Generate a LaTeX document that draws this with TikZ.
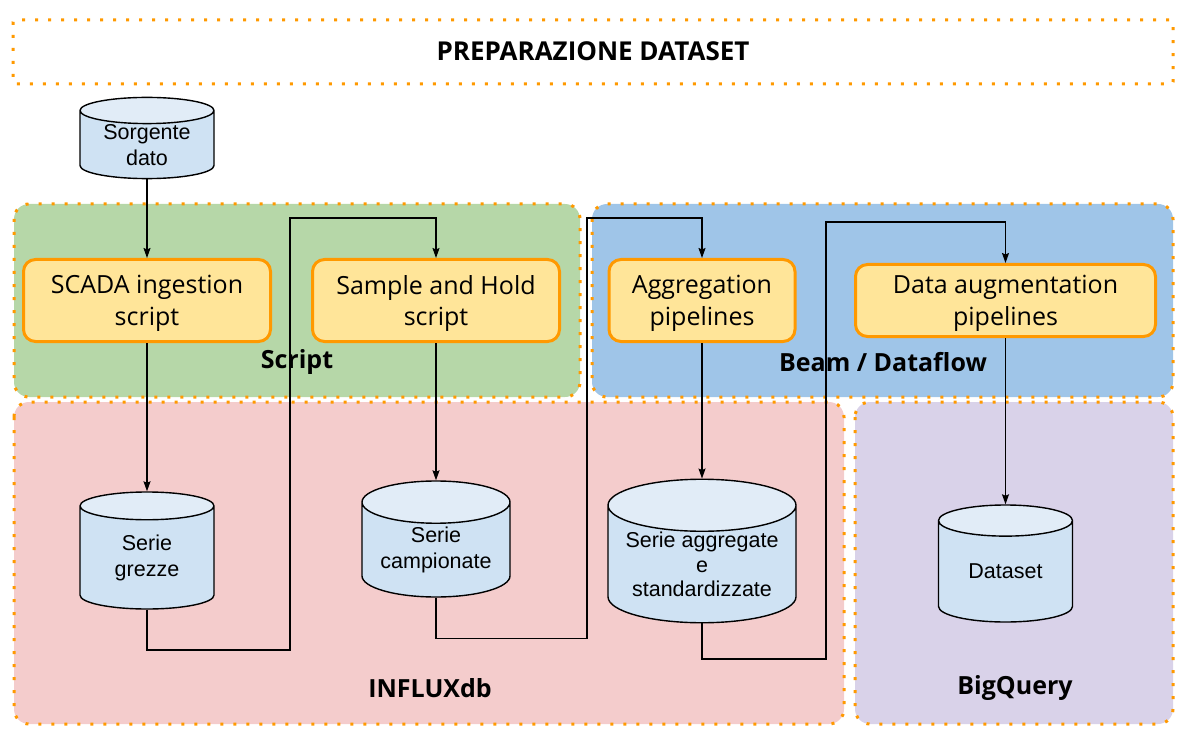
\documentclass[tikz,border=0pt]{standalone}
\usepackage{fontspec}
\setmainfont{Open Sans}
\newfontfamily\arialfont{Liberation Sans}
\usetikzlibrary{arrows.meta,shapes.geometric}
\definecolor{dotOrange}{HTML}{FF9900}
\definecolor{boxFill}{HTML}{FFE599}
\definecolor{grpGreen}{HTML}{B6D7A8}
\definecolor{grpBlue}{HTML}{9FC5E8}
\definecolor{grpPink}{HTML}{F4CCCC}
\definecolor{grpPurple}{HTML}{D9D2E9}
\definecolor{cylBody}{HTML}{CFE2F3}
\definecolor{cylTop}{HTML}{E1ECF7}

\begin{document}
\begin{tikzpicture}[x=1pt,y=-1pt,>={Stealth[length=10pt,width=7pt,inset=1.5pt]},
  group/.style={draw=dotOrange,line width=3pt,dash pattern=on 3pt off 10pt,rounded corners=15pt},
  grouplabel/.style={font=\fontsize{25}{29}\selectfont\bfseries},
  task/.style={draw=dotOrange,fill=boxFill,line width=3pt,rounded corners=12pt,align=center,inner sep=0pt,text depth=0pt,font=\fontsize{25}{31.5}\selectfont},
  store/.style={cylinder,shape border rotate=90,draw,line width=1.4pt,cylinder uses custom fill,cylinder body fill=cylBody,cylinder end fill=cylTop,align=center,inner sep=0pt,anchor=shape center,font=\arialfont\fontsize{21.5}{26}\selectfont},
  flow/.style={->,line width=1.3pt}]
\useasboundingbox (0,0) rectangle (1196,735);

\draw[group,rounded corners=2pt] (13,20) rectangle (1173,84);
\node[font=\fontsize{26}{30}\selectfont\bfseries] (title) at (593,51) {PREPARAZIONE DATASET};

\draw[group,fill=grpGreen] (14,204) rectangle (580,397);
\draw[group,fill=grpBlue] (592,204) rectangle (1173,397);
\draw[group,fill=grpPink] (14,402) rectangle (844,724);
\draw[group,fill=grpPurple] (855,402) rectangle (1173,724);

\node[grouplabel] (lblScript) at (297,362) {Script};
\node[grouplabel] (lblBeam) at (883,362) {Beam / Dataflow};
\node[grouplabel] (lblInflux) at (430,688) {INFLUXdb};
\node[grouplabel] (lblBigQuery) at (1015,688) {BigQuery};

\node[task,minimum width=247,minimum height=82] (scada) at (147,300.5) {SCADA ingestion\\script};
\node[task,minimum width=247,minimum height=82] (sampleHold) at (436,300.5) {Sample and Hold\\script};
\node[task,minimum width=186,minimum height=82] (aggr) at (702,300.5) {Aggregation\\pipelines};
\node[task,minimum width=300,minimum height=72] (augment) at (1005.5,300.5) {Data augmentation\\pipelines};

\node[store,aspect=0.3,minimum width=134,minimum height=74] (srcData) at (147,138) {Sorgente\\dato};
\node[store,aspect=0.43,minimum width=134,minimum height=117] (serieGrezze) at (147,550.5) {Serie\\grezze};
\node[store,aspect=0.38,minimum width=148,minimum height=116] (serieCamp) at (436,539) {Serie\\campionate};
\node[store,aspect=0.34,minimum width=188,minimum height=136,font=\arialfont\fontsize{21.5}{24.5}\selectfont] (serieAggr) at (702,551) {Serie aggregate\\e\\standardizzate};
\node[store,aspect=0.42,minimum width=134,minimum height=117] (dataset) at (1005.5,563.5) {Dataset};

\coordinate (gBend) at (290,650);
\coordinate (gUp) at (290,218);
\coordinate (cBend) at (587,638.5);
\coordinate (cUp) at (587,218);
\coordinate (aBend) at (826,659);
\coordinate (aUp) at (826,222);

\draw[flow] (srcData.bottom) -- (scada.north);
\draw[flow] (scada.south) -- (serieGrezze.top);
\draw[flow] (serieGrezze.bottom) |- (gBend) -- (gUp) -| (sampleHold.north);
\draw[flow] (sampleHold.south) -- (serieCamp.top);
\draw[flow] (serieCamp.bottom) |- (cBend) -- (cUp) -| (aggr.north);
\draw[flow] (aggr.south) -- (serieAggr.top);
\draw[flow] (serieAggr.bottom) |- (aBend) -- (aUp) -| (augment.north);
\draw[flow] (augment.south) -- (dataset.top);
\end{tikzpicture}
\end{document}
